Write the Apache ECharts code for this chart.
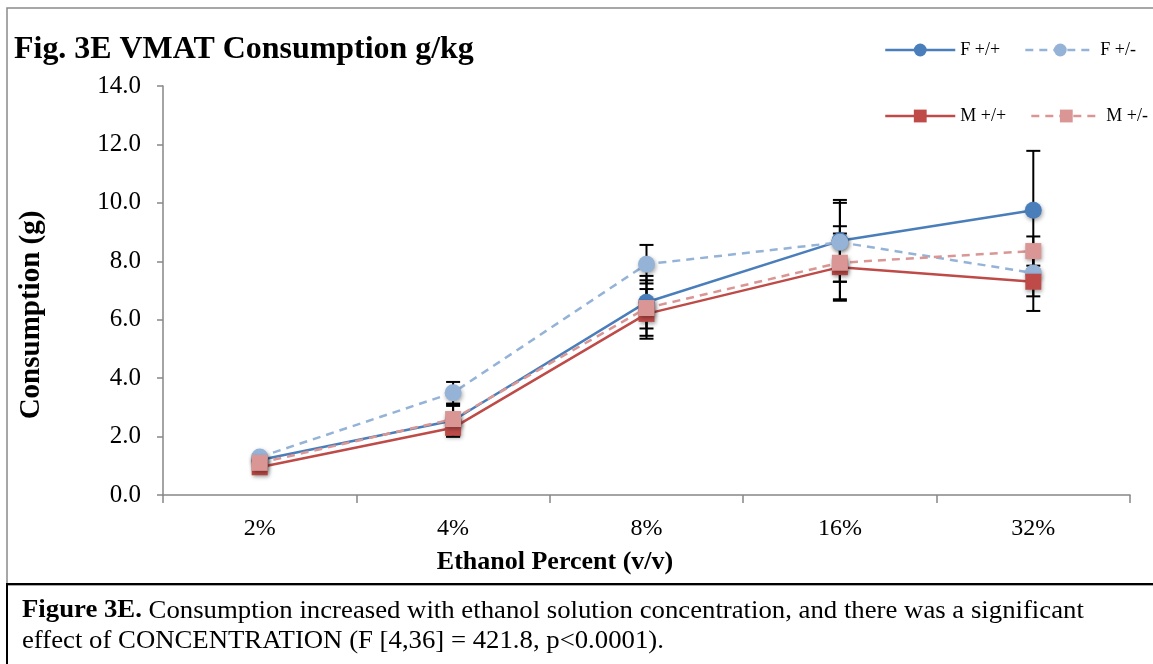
<!DOCTYPE html>
<html>
<head>
<meta charset="utf-8">
<script src="https://cdn.jsdelivr.net/npm/echarts@6/dist/echarts.min.js"></script>
<style>
html,body{margin:0;padding:0;background:#fff;}
#chart{width:1153px;height:664px;}
</style>
</head>
<body>
<div id="chart"></div>
<script>
const categories = ['2%', '4%', '8%', '16%', '32%'];
const seriesNames = ['F +/+', 'F +/-', 'M +/+', 'M +/-'];
const fPP = [1.2, 2.55, 6.6, 8.7, 9.75];
const fPM = [1.3, 3.5, 7.9, 8.65, 7.6];
const mPP = [0.95, 2.3, 6.2, 7.8, 7.3];
const mPM = [1.1, 2.6, 6.4, 7.95, 8.35];
const fPPerr = [0.1, 0.55, 0.9, 1.4, 2.03];
const fPMerr = [0.1, 0.37, 0.66, 1.35, 0.8];
const mPPerr = [0.1, 0.3, 0.85, 1.15, 1.0];
const mPMerr = [0.1, 0.45, 0.95, 1.25, 0.5];
const yTicks = [0, 2, 4, 6, 8, 10, 12, 14];

const colors = ['#4A7EBB', '#95B3D7', '#BE4B48', '#D99694'];
const values = [fPP, fPM, mPP, mPM];
const errs = [fPPerr, fPMerr, mPPerr, mPMerr];
const symbols = ['circle', 'circle', 'rect', 'rect'];
const dashed = [false, true, false, true];

const serif = '"Liberation Serif", "Times New Roman", serif';

const chart = echarts.init(document.getElementById('chart'));

const errSeries = values.map((vals, si) => ({
  type: 'custom',
  name: 'err' + si,
  z: 1,
  silent: true,
  data: vals.map((v, i) => [i, v - errs[si][i], v + errs[si][i]]),
  renderItem: function (params, api) {
    const x = api.value(0);
    const lo = api.coord([x, api.value(1)]);
    const hi = api.coord([x, api.value(2)]);
    const w = 7;
    const st = { stroke: '#000', lineWidth: 2 };
    return {
      type: 'group',
      children: [
        { type: 'line', shape: { x1: lo[0], y1: lo[1], x2: hi[0], y2: hi[1] }, style: st },
        { type: 'line', shape: { x1: lo[0] - w, y1: lo[1], x2: lo[0] + w, y2: lo[1] }, style: st },
        { type: 'line', shape: { x1: hi[0] - w, y1: hi[1], x2: hi[0] + w, y2: hi[1] }, style: st }
      ]
    };
  }
}));

const lineSeries = values.map((vals, si) => ({
  type: 'line',
  name: seriesNames[si],
  data: vals,
  z: 3 + si,
  symbol: symbols[si],
  symbolSize: symbols[si] === 'circle' ? 17 : 16,
  showSymbol: true,
  lineStyle: { color: colors[si], width: 2.5, type: dashed[si] ? [8, 6] : 'solid' },
  itemStyle: {
    color: colors[si],
    shadowBlur: 4,
    shadowColor: 'rgba(0,0,0,0.35)',
    shadowOffsetX: 1,
    shadowOffsetY: 2
  },
  emphasis: { disabled: true },
  animation: false
}));

const legendCommon = {
  orient: 'horizontal',
  itemWidth: 70,
  itemHeight: 16,
  itemGap: 24,
  width: 300,
  selectedMode: false,
  lineStyle: { width: 2.5 },
  textStyle: { fontFamily: serif, fontSize: 18, color: '#000' }
};

chart.setOption({
  animation: false,
  backgroundColor: '#fff',
  grid: { left: 163, right: 23, top: 86, bottom: 169, containLabel: false },
  legend: [
    Object.assign({}, legendCommon, { left: 879, top: 36, data: ['F +/+', 'F +/-'] }),
    Object.assign({}, legendCommon, { left: 879, top: 102, data: ['M +/+', 'M +/-'] })
  ],
  xAxis: {
    type: 'category',
    data: categories,
    boundaryGap: true,
    axisLine: { lineStyle: { color: '#868686', width: 1.5 } },
    axisTick: { show: true, length: 8, lineStyle: { color: '#868686', width: 1.5 } },
    axisLabel: { fontFamily: serif, fontSize: 24, color: '#000', margin: 22 },
    splitLine: { show: false }
  },
  yAxis: {
    type: 'value',
    min: 0,
    max: 14,
    interval: 2,
    axisLine: { show: true, lineStyle: { color: '#868686', width: 1.5 } },
    axisTick: { show: true, length: 6, lineStyle: { color: '#868686', width: 1.5 } },
    axisLabel: {
      fontFamily: serif, fontSize: 25, color: '#000', margin: 22,
      formatter: v => (yTicks.includes(v) ? v.toFixed(1) : '')
    },
    splitLine: { show: false }
  },
  graphic: [
    { type: 'rect', z: -10, shape: { x: 7, y: 8, width: 1150, height: 577 }, style: { fill: 'none', stroke: '#8a8a8a', lineWidth: 1.5 } },
    { type: 'rect', z: -9, shape: { x: 7, y: 584, width: 1150, height: 90 }, style: { fill: 'none', stroke: '#000', lineWidth: 2 } },
    { type: 'text', x: 14, y: 50, scaleX: 1.03, style: { text: 'Fig. 3E VMAT Consumption g/kg', fontFamily: serif, fontSize: 31, fontWeight: 'bold', fill: '#000', verticalAlign: 'middle' } },
    { type: 'text', x: 32, y: 315, rotation: Math.PI / 2, style: { text: 'Consumption (g)', fontFamily: serif, fontSize: 29, fontWeight: 'bold', fill: '#000', align: 'center', verticalAlign: 'middle' } },
    { type: 'text', x: 555, y: 563, scaleX: 1.04, style: { text: 'Ethanol Percent (v/v)', fontFamily: serif, fontSize: 25, fontWeight: 'bold', fill: '#000', align: 'center', verticalAlign: 'middle' } },
    { type: 'text', x: 22, y: 611, scaleX: 1.07, style: {
        rich: {
          b: { fontFamily: serif, fontSize: 25, fontWeight: 'bold', fill: '#000' },
          n: { fontFamily: serif, fontSize: 25, fill: '#000' }
        },
        text: '{b|Figure 3E.}{n| Consumption increased with ethanol solution concentration, and there was a significant}',
        verticalAlign: 'middle'
      } },
    { type: 'text', x: 22, y: 641, scaleX: 1.07, style: { text: 'effect of CONCENTRATION (F [4,36] = 421.8, p<0.0001).', fontFamily: serif, fontSize: 25, fill: '#000', verticalAlign: 'middle' } }
  ],
  series: errSeries.concat(lineSeries)
});
</script>
</body>
</html>
